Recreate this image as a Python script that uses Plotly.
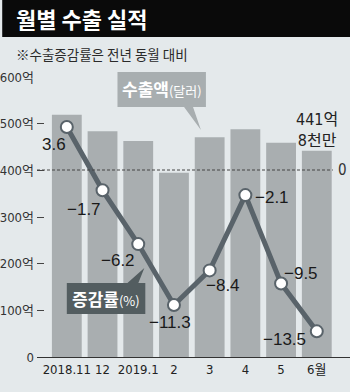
import plotly.graph_objects as go

# ---- data ----
months = ["2018.11", "12", "2019.1", "2", "3", "4", "5", "6월"]
exports = [519, 484, 463, 395, 471, 488, 459, 441.8]          # 억 달러
growth = [3.6, -1.7, -6.2, -11.3, -8.4, -2.1, -9.5, -13.5]     # %
growth_text = ["3.6", "−1.7", "−6.2", "−11.3", "−8.4", "−2.1", "−9.5", "−13.5"]
y_tickvals = [0, 100, 200, 300, 400, 500, 600]
y_ticktext = ["0", "100억", "200억", "300억", "400억", "500억", "600억"]

# ---- layout geometry (pixels) ----
W, H = 350, 392
L, R, T, B = 35, 0, 77, 35
PW, PH = W - L - R, H - T - B

def px(x):
    return (x - L) / PW

def py(y):
    return (H - B - y) / PH

BG = "#e4e9eb"
BAR = "#a9aeb0"
LINE = "#59636a"
DARK = "#535d60"
NARROW = "DejaVu Sans Condensed, Liberation Sans Narrow, Noto Sans CJK KR, sans-serif"
SANS = "Liberation Sans, Arial, Noto Sans CJK KR, sans-serif"
KR = "Noto Sans CJK KR, sans-serif"

xs = list(range(len(months)))

fig = go.Figure()
fig.add_trace(go.Bar(x=xs, y=exports, marker=dict(color=BAR, line=dict(width=0)),
                     width=0.835, yaxis="y", hoverinfo="skip"))
fig.add_trace(go.Scatter(x=xs, y=growth, yaxis="y2", mode="lines+markers",
                         line=dict(color=LINE, width=5),
                         marker=dict(size=12, color="white", line=dict(color=LINE, width=2)),
                         hoverinfo="skip", cliponaxis=False))

shapes = []
# title bar
shapes.append(dict(type="rect", xref="paper", yref="paper", x0=px(0), x1=px(W), y0=py(0), y1=py(37),
                   fillcolor="#0a0a0a", line=dict(width=0), layer="above"))
# dashed zero line for growth
shapes.append(dict(type="line", xref="x", yref="y2", x0=-0.835, x1=7.45, y0=0, y1=0,
                   line=dict(color="#444", width=1, dash="3px,2px"), layer="above"))

def path(points):
    s = "M" + " L".join(f"{px(a):.5f},{py(b):.5f}" for a, b in points) + " Z"
    return s

# speech bubble: 수출액
shapes.append(dict(type="path", xref="paper", yref="paper",
                   path=path([(116, 72), (205, 72), (205, 107), (192, 107), (200, 130), (183, 107), (116, 107)]),
                   fillcolor="#a8aeb0", line=dict(width=0), layer="above"))
# speech bubble: 증감률
shapes.append(dict(type="path", xref="paper", yref="paper",
                   path=path([(65, 283), (126, 283), (143, 268), (137, 283), (144, 283), (144, 314), (65, 314)]),
                   fillcolor=DARK, line=dict(width=0), layer="above"))

annotations = []
annotations.append(dict(text="<b>월별 수출 실적</b>", xref="paper", yref="paper", x=px(12), y=py(18),
                        xanchor="left", yanchor="middle", showarrow=False,
                        font=dict(family=KR, size=22, color="white")))
annotations.append(dict(text="※수출증감률은 전년 동월 대비", xref="paper", yref="paper", x=px(12), y=py(54),
                        xanchor="left", yanchor="middle", showarrow=False,
                        font=dict(family=KR, size=13.5, color="#2a2a2a")))
annotations.append(dict(text="<b>수출액</b><span style='font-size:13px'>(달러)</span>", xref="paper", yref="paper",
                        x=px(160.5), y=py(89), xanchor="center", yanchor="middle", showarrow=False,
                        font=dict(family=KR, size=17, color="white")))
annotations.append(dict(text="<b>증감률</b><span style='font-size:13px'>(%)</span>", xref="paper", yref="paper",
                        x=px(104.5), y=py(298.5), xanchor="center", yanchor="middle", showarrow=False,
                        font=dict(family=KR, size=17, color="white")))
annotations.append(dict(text="0", xref="paper", yref="y2", x=px(342), y=0, xanchor="center", yanchor="middle",
                        showarrow=False, font=dict(family=NARROW, size=15, color="#333")))
annotations.append(dict(text="441억<br>8천만", xref="x", yref="y", x=7, y=exports[7], yshift=21,
                        xanchor="center", yanchor="middle", showarrow=False,
                        font=dict(family=NARROW, size=16, color="#222")))

label_offsets = [(-13, -18), (-19, -19), (-20, -16), (-4, -17), (13, -15), (27, -2), (20, 10), (-32, -8)]
for i, (g, t) in enumerate(zip(growth, growth_text)):
    dx, dy = label_offsets[i]
    annotations.append(dict(text=t, xref="x", yref="y2", x=xs[i], y=g, xshift=dx, yshift=dy,
                            xanchor="center", yanchor="middle", showarrow=False,
                            font=dict(family=SANS, size=17, color="#1a1a1a")))

fig.update_layout(
    width=W, height=H, autosize=False,
    margin=dict(l=L, r=R, t=T, b=B, pad=0),
    paper_bgcolor=BG, plot_bgcolor=BG,
    showlegend=False,
    font=dict(family=NARROW, color="#222"),
    xaxis=dict(range=[-0.835, 7.93], tickvals=xs, ticktext=months, showgrid=False, zeroline=False,
               showline=True, linecolor="#333", linewidth=1, ticks="", tickangle=0,
               tickfont=dict(size=13, color="#222"), fixedrange=True),
    yaxis=dict(range=[0, 600], tickvals=y_tickvals, ticktext=y_ticktext, showgrid=False, zeroline=False,
               ticks="inside", ticklen=7, tickcolor="#444", tickwidth=1, ticklabelstandoff=2,
               tickfont=dict(size=13, color="#333"), showline=False),
    yaxis2=dict(range=[-(357 - 170) / 11.95, (170 - 77) / 11.95], overlaying="y", side="right",
                showgrid=False, zeroline=False, showticklabels=False, ticks="", showline=False),
    shapes=shapes,
    annotations=annotations,
)

fig.write_html("out.html")
